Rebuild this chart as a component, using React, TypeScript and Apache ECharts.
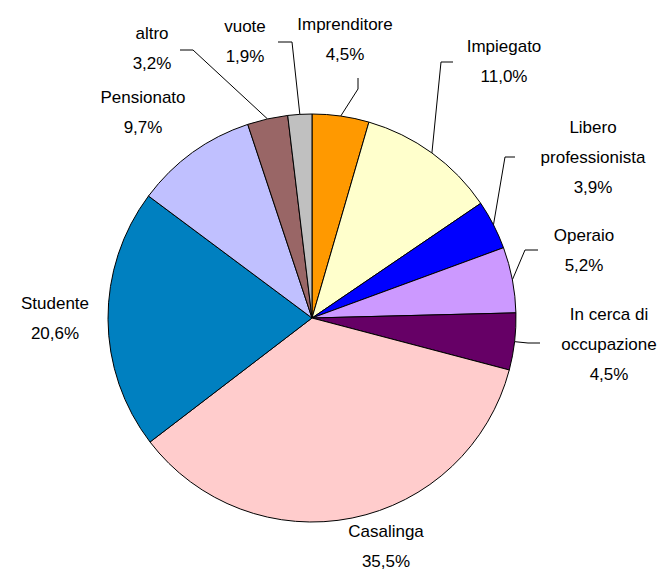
import React, { useEffect, useRef } from "react";
import * as echarts from "echarts";

const categories = [
  "Imprenditore",
  "Impiegato",
  "Libero\nprofessionista",
  "Operaio",
  "In cerca di\noccupazione",
  "Casalinga",
  "Studente",
  "Pensionato",
  "altro",
  "vuote",
];
const values = [4.5, 11.0, 3.9, 5.2, 4.5, 35.5, 20.6, 9.7, 3.2, 1.9];
const colors = [
  "#FF9900",
  "#FFFFCC",
  "#0000FF",
  "#CC99FF",
  "#660066",
  "#FFCCCC",
  "#0080C0",
  "#C0C0FF",
  "#996666",
  "#C0C0C0",
];

// label centres and leader-line bend/end points (layout only)
const labelPos: [number, number][] = [
  [345, 39],
  [504, 61],
  [593, 157],
  [584, 250],
  [609, 344],
  [386, 546],
  [55, 318],
  [143, 112],
  [152, 48],
  [245, 41],
];
const leader: ([number, number][] | null)[] = [
  [[358, 89], [358, 78]],
  [[441, 62], [453, 62]],
  [[505, 157], [515, 157]],
  [[525, 250], [538, 250]],
  [[528, 343], [540, 343]],
  null,
  null,
  null,
  [[193, 50], [180, 50]],
  [[292, 42], [278, 42]],
];

export default function App() {
  const ref = useRef<HTMLDivElement>(null);
  useEffect(() => {
    document.body.style.margin = "0";
    const chart = echarts.init(ref.current!, null, { renderer: "svg" });
    chart.setOption({
      animation: false,
      backgroundColor: "#ffffff",
      series: [
        {
          type: "pie",
          center: [312, 318],
          radius: 204,
          startAngle: 90,
          clockwise: true,
          avoidLabelOverlap: false,
          itemStyle: { borderColor: "#000", borderWidth: 1 },
          label: {
            show: true,
            position: "outside",
            color: "#000",
            fontFamily: "Liberation Sans",
            fontSize: 17,
            lineHeight: 30,
            align: "center",
            formatter: (p: any) =>
              p.name + "\n" + p.value.toFixed(1).replace(".", ",") + "%",
          },
          labelLine: {
            show: true,
            lineStyle: { color: "#000", width: 1 },
          },
          labelLayout: (params: any) => {
            const i = params.dataIndex;
            const res: any = {
              x: labelPos[i][0],
              y: labelPos[i][1],
              align: "center",
              verticalAlign: "middle",
            };
            const l = leader[i];
            if (l && params.labelLinePoints) {
              res.labelLinePoints = [params.labelLinePoints[0], l[0], l[1]];
            }
            return res;
          },
          data: categories.map((c, i) => ({
            name: c,
            value: values[i],
            itemStyle: { color: colors[i] },
            labelLine: { show: leader[i] !== null },
          })),
        },
      ],
    });
    return () => chart.dispose();
  }, []);
  return <div ref={ref} style={{ width: 671, height: 576 }} />;
}
